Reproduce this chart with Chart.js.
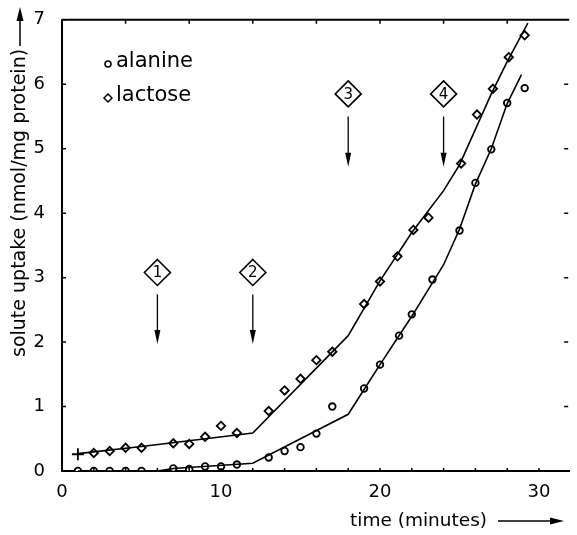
<!DOCTYPE html>
<html>
<head>
<meta charset="utf-8">
<script src="https://cdn.jsdelivr.net/npm/chart.js@4.4.1/dist/chart.umd.min.js"></script>
<style>
  html, body { margin: 0; padding: 0; background: #fff; }
  #wrap { width: 577px; height: 535px; }
</style>
</head>
<body>
<div id="wrap"><canvas id="grafico" width="577" height="535"></canvas></div>
<script>
// --- data ---
const alanineT = [1, 2, 3, 4, 5, 7, 8, 9, 10, 11, 13, 14, 15, 16, 17, 19, 20, 21.2, 22, 23.3, 25, 26, 27, 28, 29.1];
const alanineY = [0, 0, 0, 0, 0, 0.04, 0.03, 0.07, 0.07, 0.10, 0.21, 0.31, 0.37, 0.58, 1.0, 1.28, 1.65, 2.10, 2.43, 2.97, 3.73, 4.47, 4.99, 5.71, 5.94];

const lactoseT = [1, 2, 3, 4, 5, 7, 8, 9, 10, 11, 13, 14, 15, 16, 17, 19, 20, 21.1, 22.1, 23.05, 25.1, 26.1, 27.1, 28.1, 29.1];
const lactoseY = [0.26, 0.28, 0.31, 0.36, 0.36, 0.43, 0.42, 0.53, 0.70, 0.59, 0.93, 1.25, 1.43, 1.72, 1.85, 2.59, 2.94, 3.33, 3.74, 3.93, 4.77, 5.53, 5.93, 6.42, 6.76];

// fitted curves
const alanineFitT = [1, 6, 7, 12, 18, 20, 22, 24, 25, 26, 27, 28, 28.9];
const alanineFitY = [0, 0, 0.04, 0.12, 0.88, 1.65, 2.4, 3.2, 3.75, 4.45, 5.0, 5.7, 6.15];
const lactoseFitT = [1, 5, 12, 18, 20, 22, 24, 25, 26, 27, 28, 29.3];
const lactoseFitY = [0.27, 0.38, 0.59, 2.1, 2.95, 3.7, 4.35, 4.75, 5.3, 5.85, 6.35, 6.95];

// numbered additions (diamond + arrow)
const stepLabels = ['1', '2', '3', '4'];
const stepT = [6, 12, 18, 24];
const stepBoxY = [3.08, 3.08, 5.85, 5.85];
const stepArrowTop = [2.74, 2.74, 5.5, 5.5];
const stepArrowBottom = [1.97, 1.97, 4.72, 4.72];

const xTickLabels = [0, 10, 20, 30];
const yTickLabels = [0, 1, 2, 3, 4, 5, 6, 7];

const FONT = '"DejaVu Sans", sans-serif';

const pares = (xs, ys) => xs.map((x, i) => ({ x: x, y: ys[i] }));

// ticks drawn inward + frame + titles + annotations
const enfeites = {
    id: 'enfeites',
    afterDraw(chart) {
        const { ctx, chartArea: { left, right, top, bottom }, scales: { x, y } } = chart;
        ctx.save();
        ctx.strokeStyle = '#000';
        ctx.fillStyle = '#000';

        // top frame line
        ctx.lineWidth = 2;
        ctx.beginPath();
        ctx.moveTo(left, top);
        ctx.lineTo(right, top);
        ctx.stroke();

        // inward ticks
        ctx.lineWidth = 1.5;
        ctx.beginPath();
        for (let v = 0; v <= 7; v++) {
            const py = y.getPixelForValue(v);
            ctx.moveTo(left, py); ctx.lineTo(left + 4, py);
            if (v > 0 && v < 7) { ctx.moveTo(right - 1, py); ctx.lineTo(right - 5, py); }
        }
        for (let t = 4; t < 32; t += 4) {
            const px = x.getPixelForValue(t);
            ctx.moveTo(px, top); ctx.lineTo(px, top + 4);
        }
        for (let t = 2; t < 32; t += 2) {
            const px = x.getPixelForValue(t);
            ctx.moveTo(px, bottom); ctx.lineTo(px, bottom - 3);
        }
        ctx.stroke();

        // numbered diamonds and arrows
        stepLabels.forEach((lab, i) => {
            const cx = x.getPixelForValue(stepT[i]);
            const cy = y.getPixelForValue(stepBoxY[i]);
            const r = 13;
            ctx.lineWidth = 1.6;
            ctx.beginPath();
            ctx.moveTo(cx, cy - r); ctx.lineTo(cx + r, cy); ctx.lineTo(cx, cy + r); ctx.lineTo(cx - r, cy);
            ctx.closePath();
            ctx.stroke();
            ctx.font = '15px ' + FONT;
            ctx.textAlign = 'center';
            ctx.textBaseline = 'middle';
            ctx.fillText(lab, cx, cy + 1);

            const y0 = y.getPixelForValue(stepArrowTop[i]);
            const y1 = y.getPixelForValue(stepArrowBottom[i]);
            ctx.lineWidth = 1.3;
            ctx.beginPath();
            ctx.moveTo(cx, y0); ctx.lineTo(cx, y1 - 10);
            ctx.stroke();
            ctx.beginPath();
            ctx.moveTo(cx - 3, y1 - 14); ctx.lineTo(cx + 3, y1 - 14); ctx.lineTo(cx, y1);
            ctx.closePath();
            ctx.fill();
        });

        // legend inside plot
        ctx.lineWidth = 1.5;
        ctx.beginPath();
        ctx.arc(108, 64, 3, 0, Math.PI * 2);
        ctx.stroke();
        ctx.beginPath();
        ctx.moveTo(108, 94); ctx.lineTo(112, 98); ctx.lineTo(108, 102); ctx.lineTo(104, 98);
        ctx.closePath();
        ctx.stroke();
        ctx.font = '21px ' + FONT;
        ctx.textAlign = 'left';
        ctx.textBaseline = 'middle';
        ctx.fillText('alanine', 116, 62);
        ctx.fillText('lactose', 116, 96);

        // x title with arrow
        ctx.font = '18.5px ' + FONT;
        ctx.fillText('time (minutes)', 350, 521);
        ctx.lineWidth = 1.5;
        ctx.beginPath();
        ctx.moveTo(498, 521); ctx.lineTo(553, 521);
        ctx.stroke();
        ctx.beginPath();
        ctx.moveTo(564, 521); ctx.lineTo(550, 517.5); ctx.lineTo(550, 524.5);
        ctx.closePath();
        ctx.fill();

        // y title with arrow
        ctx.font = '19px ' + FONT;
        ctx.save();
        ctx.translate(20, 357);
        ctx.rotate(-Math.PI / 2);
        ctx.textAlign = 'left';
        ctx.fillText('solute uptake (nmol/mg protein)', 0, 0);
        ctx.restore();
        ctx.beginPath();
        ctx.moveTo(20, 46); ctx.lineTo(20, 20);
        ctx.stroke();
        ctx.beginPath();
        ctx.moveTo(20, 7); ctx.lineTo(16.5, 21); ctx.lineTo(23.5, 21);
        ctx.closePath();
        ctx.fill();

        ctx.restore();
    }
};

const ctx = document.getElementById('grafico').getContext('2d');
new Chart(ctx, {
    type: 'scatter',
    data: {
        datasets: [
            {
                label: 'alanine fit',
                type: 'line',
                data: pares(alanineFitT, alanineFitY),
                borderColor: '#000',
                borderWidth: 1.6,
                pointRadius: 0,
                fill: false,
                tension: 0
            },
            {
                label: 'lactose fit',
                type: 'line',
                data: pares(lactoseFitT, lactoseFitY),
                borderColor: '#000',
                borderWidth: 1.6,
                pointRadius: 0,
                fill: false,
                tension: 0
            },
            {
                label: 'alanine',
                data: pares(alanineT, alanineY),
                pointStyle: 'circle',
                pointRadius: 3.3,
                borderColor: '#000',
                backgroundColor: '#fff',
                pointBorderWidth: 1.8
            },
            {
                label: 'lactose',
                data: pares(lactoseT, lactoseY),
                pointStyle: lactoseT.map((t, i) => i === 0 ? 'cross' : 'rectRot'),
                pointRadius: lactoseT.map((t, i) => i === 0 ? 6 : 4.2),
                borderColor: '#000',
                backgroundColor: '#fff',
                pointBorderWidth: 1.8
            }
        ]
    },
    options: {
        responsive: false,
        animation: false,
        layout: { padding: { top: 15, right: 0, left: 0, bottom: 0 } },
        plugins: {
            legend: { display: false },
            tooltip: { enabled: false }
        },
        scales: {
            x: {
                type: 'linear',
                min: 0,
                max: 31.9,
                grid: { display: false },
                border: { display: true, color: '#000', width: 2 },
                afterBuildTicks: s => { s.ticks = xTickLabels.map(v => ({ value: v })); },
                afterFit: s => { s.height = 64; },
                ticks: { font: { size: 18, family: FONT }, color: '#000', padding: 3, maxRotation: 0 }
            },
            y: {
                type: 'linear',
                min: 0,
                max: 7,
                grid: { display: false },
                border: { display: true, color: '#000', width: 2 },
                afterBuildTicks: s => { s.ticks = yTickLabels.map(v => ({ value: v })); },
                afterFit: s => { s.width = 62; },
                ticks: { font: { size: 18, family: FONT }, color: '#000', padding: 9 }
            }
        }
    },
    plugins: [enfeites]
});
</script>
</body>
</html>
